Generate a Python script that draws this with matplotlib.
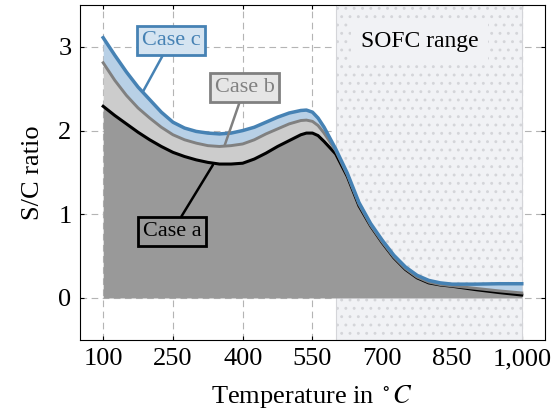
import matplotlib
matplotlib.use("Agg")
import matplotlib.pyplot as plt

# values
temp = [100, 125, 150, 175, 200, 225, 250, 275, 300, 325, 350, 375, 400, 425, 450,
        475, 500, 525, 537, 550, 562, 575, 600, 625, 650, 675, 700, 725, 750, 775, 800, 825,
        850, 875, 900, 950, 1000]
case_c = [3.11, 2.90, 2.70, 2.52, 2.37, 2.22, 2.10, 2.03, 1.99, 1.97, 1.96, 1.97, 2.00, 2.04, 2.10,
          2.16, 2.21, 2.24, 2.245, 2.22, 2.15, 2.04, 1.78, 1.49, 1.14, 0.89, 0.69, 0.51, 0.37, 0.27,
          0.21, 0.18, 0.165, 0.165, 0.165, 0.17, 0.17]
case_b = [2.81, 2.60, 2.42, 2.27, 2.15, 2.04, 1.95, 1.89, 1.85, 1.82, 1.81, 1.82, 1.84, 1.89, 1.96,
          2.02, 2.08, 2.12, 2.125, 2.11, 2.06, 1.97, 1.76, 1.47, 1.12, 0.87, 0.67, 0.49, 0.35, 0.25,
          0.19, 0.16, 0.145, 0.13, 0.115, 0.085, 0.06]
case_a = [2.29, 2.18, 2.08, 1.98, 1.89, 1.81, 1.74, 1.69, 1.65, 1.62, 1.60, 1.60, 1.61, 1.66, 1.73,
          1.81, 1.88, 1.95, 1.97, 1.97, 1.94, 1.87, 1.72, 1.45, 1.10, 0.86, 0.66, 0.48, 0.34, 0.24,
          0.18, 0.155, 0.14, 0.12, 0.10, 0.065, 0.035]

xticks = [100, 250, 400, 550, 700, 850, 1000]
xticklabels = ["100", "250", "400", "550", "700", "850", "1,000"]
yticks = [0, 1, 2, 3]
sofc = (600, 1000)

plt.rcParams["font.family"] = ["Liberation Serif", "DejaVu Serif"]
plt.rcParams["mathtext.fontset"] = "stix"
plt.rcParams["hatch.linewidth"] = 0.9

blue = "#4682b4"
fig = plt.figure(figsize=(5.55, 4.19), dpi=100)
ax = fig.add_axes([0.144, 0.189, 0.838, 0.799])

ax.grid(True, color="#b4b4b4", linestyle=(0, (6, 4)), linewidth=0.8)
ax.set_axisbelow(True)

# SOFC operating range
ax.axvspan(*sofc, facecolor="#f1f2f5", edgecolor="#d4d5d9", hatch="..",
           linewidth=0.8, zorder=1)
ax.text(780, 3.07, "SOFC range", ha="center", va="center", fontsize=17,
        zorder=2, bbox=dict(facecolor="#f1f2f5", edgecolor="none", pad=7))

# stacked areas
ax.fill_between(temp, 0, case_a, color="#999999", lw=0, zorder=3)
ax.fill_between(temp, case_a, case_b, color="#cccccc", lw=0, zorder=3)
ax.fill_between(temp, case_b, case_c, color="#b8d0e6", lw=0, zorder=3)

ax.plot(temp, case_a, color="black", lw=2.2, zorder=4, solid_joinstyle="round")
ax.plot(temp, case_b, color="#808080", lw=2.1, zorder=5, solid_joinstyle="round")
ax.plot(temp, case_c, color=blue, lw=2.5, zorder=6, solid_joinstyle="round")

# labels
box = dict(boxstyle="square,pad=0.22", lw=2)
ax.annotate("Case c", xy=(186, 2.47), xytext=(246, 3.08), fontsize=16, color=blue,
            ha="center", va="center", zorder=7,
            bbox=dict(box, facecolor="#d5e4f1", edgecolor=blue),
            arrowprops=dict(arrowstyle="-", color=blue, lw=1.8, shrinkA=0, shrinkB=0))
ax.annotate("Case b", xy=(361, 1.82), xytext=(404, 2.51), fontsize=16, color="#808080",
            ha="center", va="center", zorder=7,
            bbox=dict(box, facecolor="#e6e6e6", edgecolor="#808080"),
            arrowprops=dict(arrowstyle="-", color="#808080", lw=1.8, shrinkA=0, shrinkB=0))
ax.annotate("Case a", xy=(336, 1.59), xytext=(248, 0.79), fontsize=16, color="black",
            ha="center", va="center", zorder=7,
            bbox=dict(box, facecolor="#999999", edgecolor="black"),
            arrowprops=dict(arrowstyle="-", color="black", lw=1.8, shrinkA=0, shrinkB=0))

ax.set_xlim(50, 1050)
ax.set_ylim(-0.5, 3.5)
ax.set_xticks(xticks)
ax.set_xticklabels(xticklabels)
ax.set_yticks(yticks)
ax.tick_params(direction="in", top=True, right=True, length=3, labelsize=19, pad=6)
ax.set_xlabel(r"Temperature in $^\circ C$", fontsize=19, labelpad=9)
ax.set_ylabel("S/C ratio", fontsize=19, labelpad=10)

fig.savefig("out.png", dpi=100)
